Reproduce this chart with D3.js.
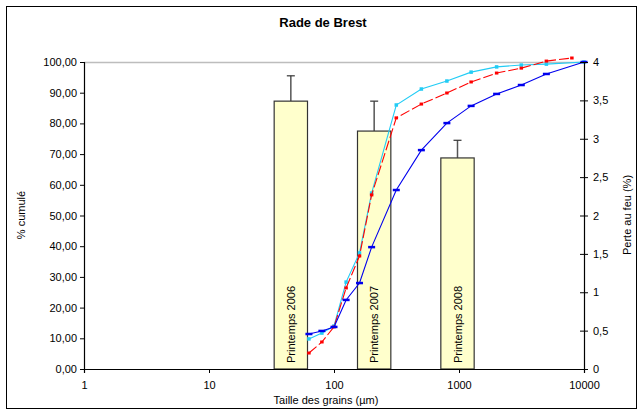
<!DOCTYPE html>
<html>
<head>
<meta charset="utf-8">
<script src="https://cdn.jsdelivr.net/npm/d3@7"></script>
<style>
  body { margin: 0; background: #fff; }
  text { font-family: "Liberation Sans", Arial, sans-serif; }
</style>
</head>
<body>
<div class="canvas"></div>
<script>
'use strict';
// sieve sizes (µm)
var sizes = [63, 80, 100, 125, 160, 200, 315, 500, 800, 1250, 2000, 3150, 5000, 10000];
var sizesRed = [63, 80, 100, 125, 160, 200, 315, 500, 800, 1250, 2000, 3150, 5000, 8000];
// cumulative % per campaign
var blueVals = [11.4, 12.4, 13.7, 22.5, 28.0, 39.7, 58.3, 71.3, 80.1, 85.7, 89.6, 92.5, 96.1, 100];
var redVals = [5.2, 8.8, 13.7, 26.4, 36.8, 56.7, 81.8, 86.3, 89.9, 93.5, 96.4, 98.0, 100.3, 101.3];
var cyanVals = [9.8, 11.7, 14.0, 28.3, 37.8, 57.3, 86.0, 91.2, 93.8, 96.7, 98.4, 99.0, 99.3, 100];
// perte au feu bars
var barLabels = ["Printemps 2006", "Printemps 2007", "Printemps 2008"];
var barVals = [3.49, 3.10, 2.75];
var barErr = [0.33, 0.39, 0.23];
var barSlots = [2, 3, 4];
var nSlots = 6;
var leftTicks = [0, 10, 20, 30, 40, 50, 60, 70, 80, 90, 100];
var rightTicks = [0, 0.5, 1, 1.5, 2, 2.5, 3, 3.5, 4];
var xTicks = [1, 10, 100, 1000, 10000];

var W = 643, H = 412;
var L = 84, R = 584, T = 62, B = 369;

var svg = d3.select(".canvas").append("svg")
    .attr("width", W).attr("height", H);

svg.append("rect")
    .attr("x", 6.5).attr("y", 6.5)
    .attr("width", 630).attr("height", 402)
    .attr("fill", "#fff").attr("stroke", "#000").attr("stroke-width", 1);

var x = d3.scaleLog().domain([1, 10000]).range([L, R]);
var y = d3.scaleLinear().domain([0, 100]).range([B, T]);
var y2 = d3.scaleLinear().domain([0, 4]).range([B, T]);
var band = d3.scaleBand().domain(d3.range(nSlots)).range([L - 1.5, R - 1.5])
    .paddingInner(0.6).paddingOuter(0.3);

var comma = function(f) { return function(d) { return d3.format(f)(d).replace(".", ","); }; };

// top border line of plot area
svg.append("line")
    .attr("x1", L).attr("x2", R).attr("y1", y(100) + 0.5).attr("y2", y(100) + 0.5)
    .attr("stroke", "#bdbdbd").attr("stroke-width", 1.5);

// bars
var bars = svg.append("g");
barVals.forEach(function(v, i) {
    var bx = band(barSlots[i]), bw = band.bandwidth();
    var cx = bx + bw / 2;
    bars.append("line")
        .attr("x1", cx).attr("x2", cx)
        .attr("y1", y2(v)).attr("y2", y2(v + barErr[i]))
        .attr("stroke", "#555").attr("stroke-width", 1.5);
    bars.append("line")
        .attr("x1", cx - 4).attr("x2", cx + 4)
        .attr("y1", y2(v + barErr[i])).attr("y2", y2(v + barErr[i]))
        .attr("stroke", "#333").attr("stroke-width", 1.2);
    bars.append("rect")
        .attr("x", bx).attr("y", y2(v))
        .attr("width", bw).attr("height", y2(0) - y2(v))
        .attr("fill", "#ffffcc").attr("stroke", "#333").attr("stroke-width", 1.2);
    bars.append("text")
        .attr("transform", "translate(" + (cx + 4) + "," + (B - 6) + ") rotate(-90)")
        .attr("font-size", 11)
        .attr("fill", "#000")
        .text(barLabels[i]);
});

// curves
var line = d3.line().x(function(d) { return x(d[0]); }).y(function(d) { return y(d[1]); });

function series(xs, vals, color, dash, marker) {
    var pts = xs.map(function(s, i) { return [s, vals[i]]; });
    svg.append("path")
        .datum(pts)
        .attr("d", line)
        .attr("fill", "none")
        .attr("stroke", color)
        .attr("stroke-width", 1.1)
        .attr("stroke-dasharray", dash);
    svg.append("g").selectAll("rect")
        .data(pts).enter().append("rect")
        .attr("x", function(d) { return x(d[0]) - marker[0] / 2; })
        .attr("y", function(d) { return y(d[1]) - marker[1] / 2; })
        .attr("width", marker[0]).attr("height", marker[1])
        .attr("fill", color);
}
series(sizes, cyanVals, "#22ccf5", null, [3.5, 3.5]);
series(sizesRed, redVals, "#ff0000", "10,3", [3.5, 3]);
series(sizes, blueVals, "#0000ee", null, [7, 2.5]);

// axes
var gl = svg.append("g").attr("transform", "translate(" + L + ",0)")
    .call(d3.axisLeft(y).tickValues(leftTicks).tickFormat(comma(".2f")).tickSize(4).tickPadding(3));
var gr = svg.append("g").attr("transform", "translate(" + R + ",0)")
    .call(d3.axisRight(y2).tickValues(rightTicks).tickFormat(function(d) { return String(d).replace(".", ","); })
        .tickSize(4).tickPadding(5));
gr.selectAll(".tick line").attr("x1", -4);
var gb = svg.append("g").attr("transform", "translate(0," + B + ")")
    .call(d3.axisBottom(x).tickValues(xTicks).tickFormat(d3.format("d")).tickSize(4).tickPadding(8));

[gl, gr, gb].forEach(function(g) {
    g.selectAll("text").attr("font-size", 11).attr("fill", "#000")
        .attr("font-family", "Liberation Sans, Arial, sans-serif");
    g.selectAll("line").attr("stroke", "#000");
    g.select(".domain").attr("stroke", "#000").attr("stroke-width", 1.2);
});

// titles
svg.append("text")
    .attr("x", 323).attr("y", 27)
    .attr("text-anchor", "middle")
    .attr("font-size", 13).attr("font-weight", "bold")
    .text("Rade de Brest");
svg.append("text")
    .attr("x", 326).attr("y", 404)
    .attr("text-anchor", "middle")
    .attr("font-size", 11)
    .text("Taille des grains (µm)");
svg.append("text")
    .attr("transform", "translate(25,215) rotate(-90)")
    .attr("text-anchor", "middle")
    .attr("font-size", 11)
    .text("% cumulé");
svg.append("text")
    .attr("transform", "translate(631,215) rotate(-90)")
    .attr("text-anchor", "middle")
    .attr("font-size", 11)
    .text("Perte au feu (%)");
</script>
</body>
</html>
